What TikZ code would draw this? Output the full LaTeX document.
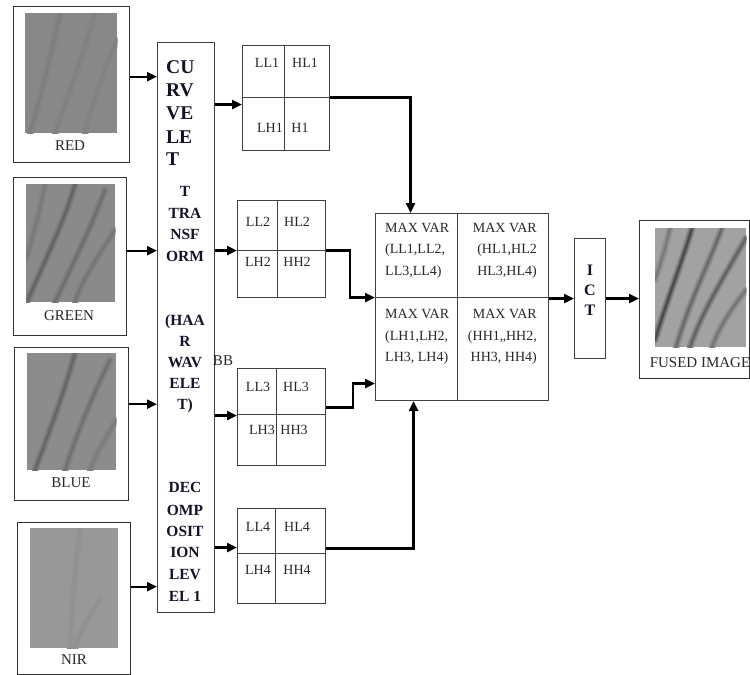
\documentclass[tikz,border=0pt]{standalone}
\usepackage{fontspec}
\setmainfont{Liberation Serif}
\usetikzlibrary{arrows.meta}
\definecolor{imgred}{RGB}{136,136,136}
\definecolor{imggreen}{RGB}{138,138,138}
\definecolor{imgblue}{RGB}{140,140,140}
\definecolor{imgnir}{RGB}{152,152,152}
\definecolor{imgfused}{RGB}{162,162,162}
\definecolor{ink}{RGB}{40,40,40}
\definecolor{navy}{RGB}{20,20,40}
% #1 base colour, #2 darkness (percent of black), #3 path
\newcommand\softvein[3]{%
  \pgfmathsetmacro\veinA{100-#2*0.35}%
  \pgfmathsetmacro\veinB{100-#2*0.65}%
  \pgfmathsetmacro\veinC{100-#2}%
  \draw[draw=#1!\veinA!black, line cap=round, line width=7pt] #3;
  \draw[draw=#1!\veinB!black, line cap=round, line width=4pt] #3;
  \draw[draw=#1!\veinC!black, line cap=round, line width=1.8pt] #3;}
\begin{document}
\begin{tikzpicture}[x=1pt,y=-1pt,
  frame/.style={draw=black!80, line width=1.4pt, fill=white, inner sep=0pt, anchor=north west},
  photo/.style={inner sep=0pt, anchor=north west},
  box/.style={draw=black!75, line width=1.1pt, inner sep=0pt, anchor=north west, fill=white},
  divider/.style={draw=black!75, line width=1.1pt},
  conn/.style={draw=black, line width=2.4pt},
  arr/.style={conn, -{Triangle[length=10pt,width=9pt]}},
  caption/.style={font=\fontsize{15}{17}\selectfont, inner sep=0pt, text height=10pt, text depth=0pt, text=ink},
  cell/.style={font=\fontsize{14}{16}\selectfont, inner sep=0pt, text height=9.3pt, text depth=0pt, text=ink},
  mvtext/.style={font=\fontsize{14}{21.5}\selectfont, inner sep=0pt, text=ink},
  cvbig/.style={font=\bfseries\fontsize{19.5}{21}\selectfont, inner sep=0pt, text height=13pt, text depth=0pt, text=navy, anchor=west},
  cvsmall/.style={font=\bfseries\fontsize{15.5}{17}\selectfont, inner sep=0pt, text height=10.3pt, text depth=0pt, text=navy},
]
\useasboundingbox (0,0) rectangle (750,675);

% ---------- input image frames ----------
\node[frame, minimum width=116pt, minimum height=156pt] (red) at (13,6) {};
\node[frame, minimum width=113pt, minimum height=158pt] (green) at (13,177) {};
\node[frame, minimum width=114pt, minimum height=153pt] (blue) at (14,347) {};
\node[frame, minimum width=113pt, minimum height=152pt] (nir) at (17,522) {};

\node[photo, fill=imgred, minimum width=92pt, minimum height=120pt] (redimg) at (25,13) {};
\node[photo, fill=imggreen, minimum width=89pt, minimum height=118pt] (greenimg) at (26,184) {};
\node[photo, fill=imgblue, minimum width=89pt, minimum height=117pt] (blueimg) at (27,353) {};
\node[photo, fill=imgnir, minimum width=88pt, minimum height=120pt] (nirimg) at (30,528) {};

\begin{scope}
\clip (redimg.south west) rectangle (redimg.north east);
\softvein{imgred}{8}{(60,13) .. controls (50,60) and (40,100) .. (30,133)}
\softvein{imgred}{6}{(95,13) .. controls (85,50) and (70,90) .. (55,133)}
\softvein{imgred}{5}{(117,40) .. controls (100,80) and (90,110) .. (85,133)}
\end{scope}
\begin{scope}
\clip (greenimg.south west) rectangle (greenimg.north east);
\softvein{imggreen}{28}{(75,184) .. controls (65,220) and (45,260) .. (28,300)}
\softvein{imggreen}{20}{(105,190) .. controls (90,230) and (70,270) .. (55,302)}
\softvein{imggreen}{15}{(115,230) .. controls (95,260) and (80,285) .. (75,302)}
\softvein{imggreen}{12}{(45,184) .. controls (40,210) and (32,240) .. (26,260)}
\end{scope}
\begin{scope}
\clip (blueimg.south west) rectangle (blueimg.north east);
\softvein{imgblue}{28}{(75,353) .. controls (65,390) and (50,430) .. (35,470)}
\softvein{imgblue}{20}{(110,360) .. controls (90,400) and (75,440) .. (65,470)}
\softvein{imgblue}{12}{(116,420) .. controls (105,440) and (95,455) .. (90,470)}
\end{scope}
\begin{scope}
\clip (nirimg.south west) rectangle (nirimg.north east);
\softvein{imgnir}{5}{(80,528) .. controls (75,570) and (72,610) .. (70,648)}
\softvein{imgnir}{5}{(100,600) .. controls (90,615) and (80,630) .. (75,648)}
\end{scope}

\node[caption] (redlbl) at (70,145) {RED};
\node[caption] (greenlbl) at (69,315) {GREEN};
\node[caption] (bluelbl) at (71,482) {BLUE};
\node[caption] (nirlbl) at (74,659) {NIR};

% ---------- curvelet transform box ----------
\node[box, minimum width=57pt, minimum height=570pt] (curv) at (157,42) {};
\foreach \t/\yy [count=\i] in {CU/67, RV/90, VE/113, LE/137, T/159}
  \node[cvbig] (cva\i) at (166,\yy) {\t};
\foreach \t/\yy [count=\i] in {T/191, TRA/213, NSF/234, ORM/256,
    {(HAA}/320, R/341, WAV/362, ELE/383, {T)}/404,
    DEC/487, OMP/510, OSIT/531, ION/552, LEV/574, {EL 1}/596}
  \node[cvsmall] (cvb\i) at (185,\yy) {\t};
\node[caption] (bb) at (223,360) {BB};

% ---------- sub-band boxes ----------
\node[box, minimum width=87pt, minimum height=105pt] (b1) at (242,45) {};
\node[box, minimum width=88pt, minimum height=97pt] (b2) at (237,200) {};
\node[box, minimum width=88pt, minimum height=97pt] (b3) at (237,368) {};
\node[box, minimum width=88pt, minimum height=95pt] (b4) at (237,508) {};

\draw[divider] ([xshift=-1.5pt]b1.north) -- ([xshift=-1.5pt]b1.south);
\draw[divider] ([yshift=0.5pt]b1.west) -- ([yshift=0.5pt]b1.east);
\draw[divider] ([xshift=-4pt]b2.north) -- ([xshift=-4pt]b2.south);
\draw[divider] ([yshift=-1.5pt]b2.west) -- ([yshift=-1.5pt]b2.east);
\draw[divider] ([xshift=-5pt]b3.north) -- ([xshift=-5pt]b3.south);
\draw[divider] ([yshift=2.5pt]b3.west) -- ([yshift=2.5pt]b3.east);
\draw[divider] ([xshift=-6pt]b4.north) -- ([xshift=-6pt]b4.south);
\draw[divider] ([yshift=2.5pt]b4.west) -- ([yshift=2.5pt]b4.east);

\node[cell] (ll1) at (267,63) {LL1};
\node[cell] (hl1) at (305,63) {HL1};
\node[cell] (lh1) at (270,128) {LH1};
\node[cell] (h1) at (300,128) {H1};
\node[cell] (ll2) at (258,222) {LL2};
\node[cell] (hl2) at (297,222) {HL2};
\node[cell] (lh2) at (258,262) {LH2};
\node[cell] (hh2) at (297,262) {HH2};
\node[cell] (ll3) at (258,387) {LL3};
\node[cell] (hl3) at (296,387) {HL3};
\node[cell] (lh3) at (262,430) {LH3};
\node[cell] (hh3) at (294,430) {HH3};
\node[cell] (ll4) at (258,527) {LL4};
\node[cell] (hl4) at (297,527) {HL4};
\node[cell] (lh4) at (258,570) {LH4};
\node[cell] (hh4) at (297,570) {HH4};

% ---------- max variance box ----------
\node[box, minimum width=173pt, minimum height=187pt] (mv) at (375,213) {};
\draw[divider] ([xshift=-4.5pt]mv.north) -- ([xshift=-4.5pt]mv.south);
\draw[divider] ([yshift=9.5pt]mv.west) -- ([yshift=9.5pt]mv.east);
\node[mvtext, align=left, anchor=west] (mvll) at (385,250.5) {MAX VAR\\(LL1,LL2,\\LL3,LL4)};
\node[mvtext, align=right, anchor=east] (mvhl) at (537,250.5) {MAX VAR\\(HL1,HL2\\HL3,HL4)};
\node[mvtext, align=left, anchor=west] (mvlh) at (385,337) {MAX VAR\\(LH1,LH2,\\LH3, LH4)};
\node[mvtext, align=right, anchor=east] (mvhh) at (537,337) {MAX VAR\\(HH1,,HH2,\\HH3, HH4)};

% ---------- ICT and fused image ----------
\node[box, minimum width=31pt, minimum height=120pt] (ict) at (574,238) {};
\node[cvsmall, font=\bfseries\fontsize{16}{18}\selectfont] (icti) at (590,270) {I};
\node[cvsmall, font=\bfseries\fontsize{16}{18}\selectfont] (ictc) at (590,290) {C};
\node[cvsmall, font=\bfseries\fontsize{16}{18}\selectfont] (ictt) at (590,310) {T};

\node[frame, minimum width=110pt, minimum height=158pt] (fused) at (639,220) {};
\node[photo, fill=imgfused, minimum width=91pt, minimum height=119pt] (fusedimg) at (655,228) {};
\begin{scope}
\clip (fusedimg.south west) rectangle (fusedimg.north east);
\softvein{imgfused}{55}{(692,228) .. controls (682,262) and (667,300) .. (655,340)}
\softvein{imgfused}{40}{(746,238) .. controls (722,280) and (702,312) .. (690,347)}
\softvein{imgfused}{35}{(722,228) .. controls (706,270) and (690,300) .. (676,347)}
\softvein{imgfused}{28}{(746,290) .. controls (730,310) and (718,330) .. (712,347)}
\softvein{imgfused}{25}{(670,228) .. controls (665,250) and (660,265) .. (655,280)}
\end{scope}
\node[caption] (fusedlbl) at (700,362) {FUSED IMAGE};

% ---------- connectors ----------
\coordinate (r1) at ([yshift=8pt]red.east);
\coordinate (g1) at ([yshift=6pt]green.east);
\coordinate (u1) at ([yshift=20pt]blue.east);
\coordinate (n1) at ([yshift=12pt]nir.east);
\draw[arr] (r1) -- (r1 -| curv.west);
\draw[arr] (g1) -- (g1 -| curv.west);
\draw[arr] (u1) -- (u1 -| curv.west);
\draw[arr] (n1) -- (n1 -| curv.west);

\coordinate (c1) at ([yshift=-6.5pt]b1.west);
\coordinate (c2) at ([yshift=-1.5pt]b2.west);
\coordinate (c3) at ([yshift=1.5pt]b3.west);
\coordinate (c4) at ([yshift=8.5pt]b4.west);
\draw[arr] (c1 -| curv.east) -- (c1);
\draw[arr] (c2 -| curv.east) -- (c2);
\draw[arr] (c3 -| curv.east) -- (c3);
\draw[arr] (c4 -| curv.east) -- (c4);

\coordinate (m2) at ([yshift=9.5pt]mv.west);
\coordinate (m3) at ([yshift=-76.5pt]mv.west);
\draw[arr] ([yshift=0.5pt]b1.east) -| ([xshift=-51.5pt]mv.north);
\draw[arr] ([yshift=-1.5pt]b2.east) -- ++(24,0) |- (m2);
\draw[arr] ([yshift=9.5pt]b3.east) -- ++(27,0) |- (m3);
\draw[arr] ([yshift=7.5pt]b4.east) -| ([xshift=-48.5pt]mv.south);

\draw[arr] (ict.west -| mv.east) -- (ict.west);
\draw[arr] (ict.east) -- (ict.east -| fused.west);
\end{tikzpicture}
\end{document}
